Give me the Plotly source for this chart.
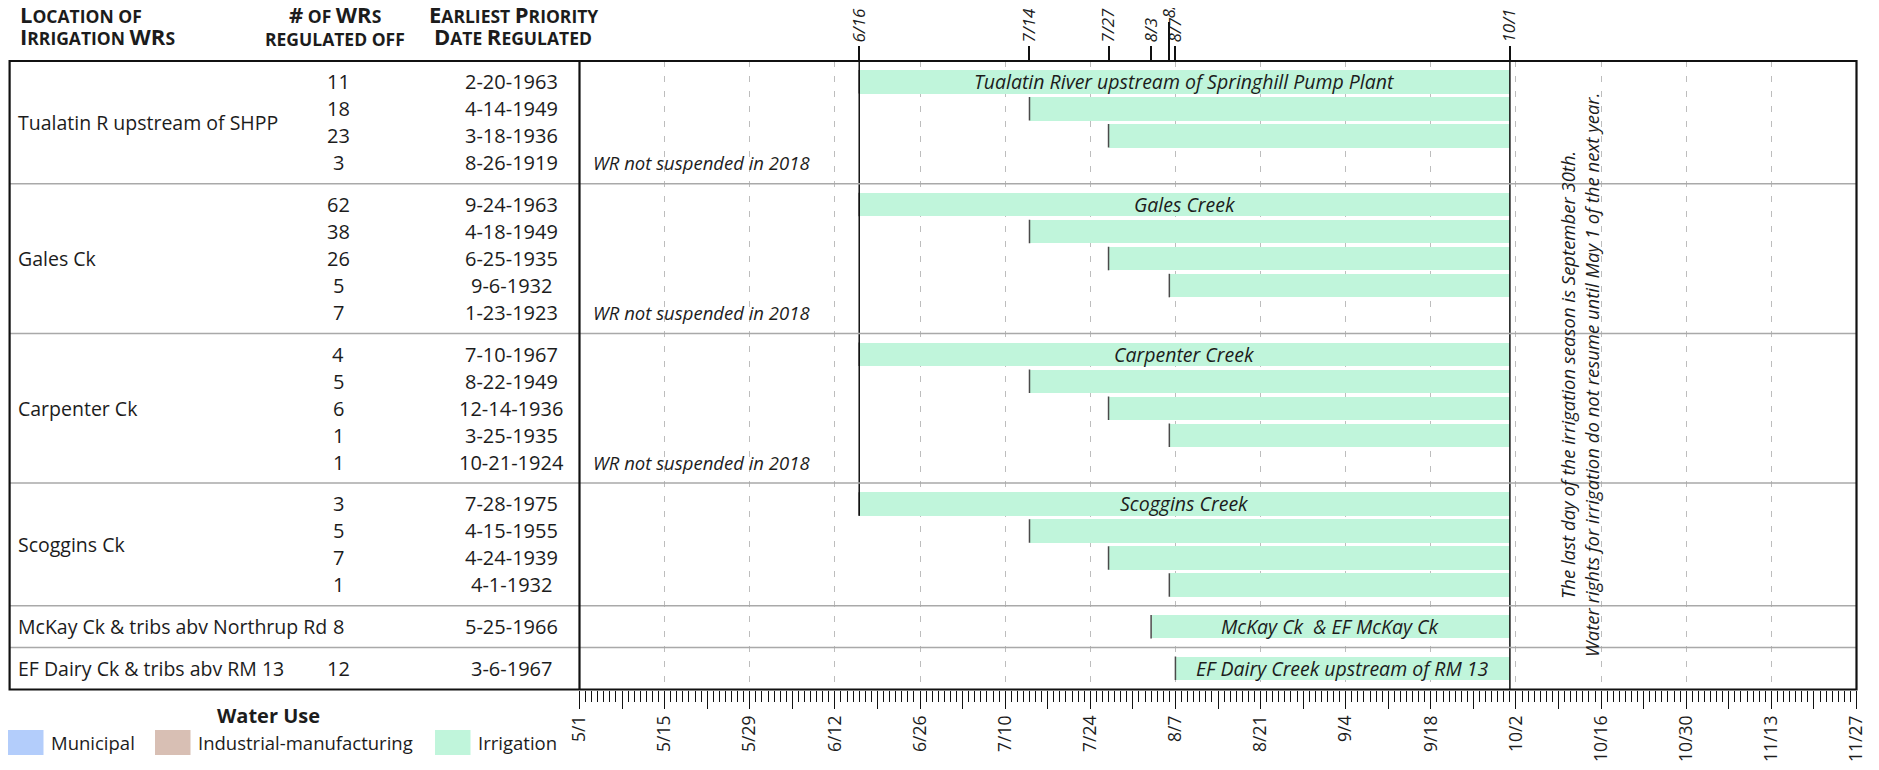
import plotly.graph_objects as go
import pandas as pd

# ---------------- data ----------------
YEAR = 2018
locations = [
    "Tualatin R upstream of SHPP",
    "Gales Ck",
    "Carpenter Ck",
    "Scoggins Ck",
    "McKay Ck & tribs abv Northrup Rd",
    "EF Dairy Ck & tribs abv RM 13",
]
group_sizes = [4, 5, 5, 4, 1, 1]
num_wrs = [11, 18, 23, 3,
           62, 38, 26, 5, 7,
           4, 5, 6, 1, 1,
           3, 5, 7, 1,
           8,
           12]
priority_dates = ["2-20-1963", "4-14-1949", "3-18-1936", "8-26-1919",
                  "9-24-1963", "4-18-1949", "6-25-1935", "9-6-1932", "1-23-1923",
                  "7-10-1967", "8-22-1949", "12-14-1936", "3-25-1935", "10-21-1924",
                  "7-28-1975", "4-15-1955", "4-24-1939", "4-1-1932",
                  "5-25-1966",
                  "3-6-1967"]
# date regulation began (None = not suspended in 2018)
reg_start = ["6/16", "7/14", "7/27", None,
             "6/16", "7/14", "7/27", "8/6", None,
             "6/16", "7/14", "7/27", "8/6", None,
             "6/16", "7/14", "7/27", "8/6",
             "8/3",
             "8/7"]
reg_end = "10/1"
bar_labels = [
    "Tualatin River upstream of Springhill Pump Plant",
    "Gales Creek",
    "Carpenter Creek",
    "Scoggins Creek",
    "McKay Ck  & EF McKay Ck",
    "EF Dairy Creek upstream of RM 13",
]
not_suspended_text = "WR not suspended in 2018"
season_note = ["The last day of the irrigation season is September 30th.",
               "Water rights for irrigation do not resume until May 1 of the next year."]
axis_start, axis_end = "5/1", "11/27"
major_tick_days, mid_tick_days, minor_tick_days = 14, 7, 1
legend_title = "Water Use"
legend_uses = ["Municipal", "Industrial-manufacturing", "Irrigation"]
legend_colors = ["#b3cdfb", "#d8bfb4", "#c0f5db"]
IRR_COLOR = legend_colors[2]

# ---------------- geometry (screen pixels) ----------------
W, H = 1879, 770
OFF = 8  # page body margin: figure starts 8px right/down on screen
DAY_MS = 86400000
BOX_L, BOX_R, BOX_T, BOX_B = 9.6, 1856.5, 61.0, 689.5
DIV_X = 579.5
PITCH, PAD, BAR_H = 27.0, 7.35, 23.5
FONT = "Open Sans"
TXT = "#1c1c1c"


def md(s):
    m, d = s.split("/")
    return pd.Timestamp(YEAR, int(m), int(d))


def iso(t):
    return t.strftime("%Y-%m-%d %H:%M:%S")


def px(x):
    return (x - OFF) / W


def py(y):
    return 1 - (y - OFF) / H


row_y, bounds, cur = [], [0.0], 0.0
group_rows = []
for n in group_sizes:
    cur += PAD
    rows = []
    for _ in range(n):
        row_y.append(cur + PITCH / 2)
        rows.append(len(row_y) - 1)
        cur += PITCH
    cur += PAD
    bounds.append(cur)
    group_rows.append(rows)
Y_SPAN = BOX_B - BOX_T

fig = go.Figure()

# bars
reg_idx = [i for i, s in enumerate(reg_start) if s]
starts = [md(reg_start[i]) for i in reg_idx]
end = md(reg_end)
fig.add_trace(go.Bar(
    orientation="h",
    y=[row_y[i] for i in reg_idx],
    base=[iso(s) for s in starts],
    x=[(end - s).total_seconds() * 1000 for s in starts],
    width=BAR_H,
    marker=dict(color=IRR_COLOR, line=dict(width=0)),
    hoverinfo="skip", showlegend=False,
))

# left edges of bars
ex, ey = [], []
for i, s in zip(reg_idx, starts):
    ex += [iso(s), iso(s), None]
    ey += [row_y[i] - BAR_H / 2, row_y[i] + BAR_H / 2, None]
fig.add_trace(go.Scatter(x=ex, y=ey, mode="lines", line=dict(color="#4a4a4a", width=1.5),
                         hoverinfo="skip", showlegend=False))

# long vertical lines: earliest regulation start and end of season
first = min(starts)
first_bottom = max(row_y[i] for i, s in zip(reg_idx, starts) if s == first) + BAR_H / 2
fig.add_trace(go.Scatter(x=[iso(first), iso(first), None, iso(end), iso(end)],
                         y=[0, first_bottom, None, 0, Y_SPAN], mode="lines",
                         line=dict(color="#111", width=1.5), hoverinfo="skip", showlegend=False))

# marker dates on the top axis
markers = sorted(set(starts + [end]))
raised = [m for k, m in enumerate(markers[:-1]) if (markers[k + 1] - m).days < 3]
normal = [m for m in markers if m not in raised]

for ax in ["x2", "x3", "x4"]:
    fig.add_trace(go.Scatter(x=[iso(md(axis_start))], y=[0], xaxis=ax, mode="markers",
                             marker=dict(opacity=0), hoverinfo="skip", showlegend=False))

xr = [iso(md(axis_start)), iso(md(axis_end))]
dom = [px(DIV_X), px(BOX_R)]
tick_font = dict(family=FONT, size=17.5, color=TXT)
top_font = dict(family=FONT, size=17, color=TXT, style="italic")
fig.update_layout(
    width=W, height=H,
    margin=dict(l=0, r=0, t=0, b=0, pad=0, autoexpand=False),
    paper_bgcolor="white", plot_bgcolor="rgba(0,0,0,0)",
    hovermode=False, showlegend=False, bargap=0,
    xaxis=dict(type="date", domain=dom, range=xr, anchor="y", automargin=False,
               tick0=iso(md(axis_start)), dtick=major_tick_days * DAY_MS,
               tickformat="%-m/%-d", ticks="outside", ticklen=18, tickwidth=1.2,
               tickcolor="#111", tickangle=-90, tickfont=tick_font,
               showgrid=True, gridcolor="#bdbdbd", gridwidth=1, griddash="6px,9px",
               minor=dict(dtick=minor_tick_days * DAY_MS, tick0=iso(md(axis_start)),
                          ticks="outside", ticklen=11, tickwidth=1, tickcolor="#111",
                          showgrid=False),
               showline=False, zeroline=False, fixedrange=True),
    xaxis2=dict(type="date", overlaying="x", range=xr, anchor="y", side="bottom", automargin=False,
                tick0=iso(md(axis_start)), dtick=mid_tick_days * DAY_MS,
                ticks="outside", ticklen=18, tickwidth=1.2, tickcolor="#111",
                showticklabels=False, showgrid=False, showline=False, zeroline=False),
    xaxis3=dict(type="date", overlaying="x", range=xr, anchor="y", side="top", automargin=False,
                tickmode="array", tickvals=[iso(m) for m in normal],
                tickformat="%-m/%-d", ticks="outside", ticklen=14, tickwidth=1.5,
                tickcolor="#111", tickangle=-90, tickfont=top_font,
                showgrid=False, showline=False, zeroline=False),
    xaxis4=dict(type="date", overlaying="x", range=xr, anchor="y", side="top", automargin=False,
                tickmode="array", tickvals=[iso(m) for m in raised],
                tickformat="%-m/%-d", ticks="outside", ticklen=38, tickwidth=1.5,
                tickcolor="#111", tickangle=-90, tickfont=top_font,
                showgrid=False, showline=False, zeroline=False),
    yaxis=dict(domain=[py(BOX_B), py(BOX_T)], range=[Y_SPAN, 0], showticklabels=False,
               automargin=False, showgrid=False, zeroline=False, showline=False, ticks="",
               fixedrange=True),
)

shapes = []
# group separators
for b in bounds[1:-1]:
    shapes.append(dict(type="line", xref="paper", yref="paper", x0=px(BOX_L), x1=px(BOX_R),
                       y0=py(BOX_T + b), y1=py(BOX_T + b),
                       line=dict(color="#a9a9a9", width=1.5), layer="above"))
# outer box and divider
shapes.append(dict(type="rect", xref="paper", yref="paper", x0=px(BOX_L), x1=px(BOX_R),
                   y0=py(BOX_B), y1=py(BOX_T), line=dict(color="#111", width=2.2), layer="above"))
shapes.append(dict(type="line", xref="paper", yref="paper", x0=px(DIV_X), x1=px(DIV_X),
                   y0=py(BOX_B), y1=py(BOX_T), line=dict(color="#111", width=2.2), layer="above"))

ann = []
SMALL = 17.5
BIG = "<span style='font-size:22px'>%s</span>"
hdr_font = dict(family=FONT, size=SMALL, color=TXT)


def header(x, anchor, lines):
    for k, t in enumerate(lines):
        ann.append(dict(xref="paper", yref="paper", x=px(x), y=py(31 + 21.7 * k),
                        xanchor=anchor, yanchor="bottom", align=anchor if anchor != "center" else "center",
                        showarrow=False, font=hdr_font, text="<b>" + t + "</b>"))


header(18.4, "left", [BIG % "L" + "OCATION OF", BIG % "I" + "RRIGATION " + BIG % "WR" + "S"])
header(335, "center", [BIG % "#" + " OF " + BIG % "WR" + "S", "REGULATED OFF"])
header(513, "center", [BIG % "E" + "ARLIEST " + BIG % "P" + "RIORITY",
                       BIG % "D" + "ATE " + BIG % "R" + "EGULATED"])

name_font = dict(family=FONT, size=19.5, color=TXT)
body_font = dict(family=FONT, size=20, color=TXT)
for g, name in enumerate(locations):
    yc = (bounds[g] + bounds[g + 1]) / 2
    ann.append(dict(xref="paper", yref="y", x=px(16), y=yc, xanchor="left", yanchor="middle",
                    showarrow=False, text=name, font=name_font))
for i in range(len(num_wrs)):
    ann.append(dict(xref="paper", yref="y", x=px(338), y=row_y[i], xanchor="center", yanchor="middle",
                    showarrow=False, text=str(num_wrs[i]), font=body_font))
    ann.append(dict(xref="paper", yref="y", x=px(511), y=row_y[i], xanchor="center", yanchor="middle",
                    showarrow=False, text=priority_dates[i], font=body_font))
    if reg_start[i] is None:
        ann.append(dict(xref="paper", yref="y", x=px(591), y=row_y[i], xanchor="left",
                        yanchor="middle", showarrow=False, text="<i>" + not_suspended_text + "</i>",
                        font=dict(family=FONT, size=18.5, color=TXT)))

# bar labels (first row of each group)
for g, rows in enumerate(group_rows):
    i = rows[0]
    s = md(reg_start[i])
    mid = s + (end - s) / 2
    ann.append(dict(xref="x", yref="y", x=iso(mid), y=row_y[i], xanchor="center", yanchor="middle",
                    showarrow=False, text="<i>" + bar_labels[g] + "</i>",
                    font=dict(family=FONT, size=19.5, color=TXT)))

# season note
ann.append(dict(xref="paper", yref="paper", x=px(1579), y=py(375), xanchor="center", yanchor="middle",
                showarrow=False, textangle=-90, align="center",
                text="<i>" + "<br>".join(season_note) + "</i>",
                font=dict(family=FONT, size=18.5, color=TXT)))

# legend
ann.append(dict(xref="paper", yref="paper", x=px(268), y=py(715), xanchor="center", yanchor="middle",
                showarrow=False, text="<b>" + legend_title + "</b>",
                font=dict(family=FONT, size=20, color=TXT)))
sw_x = [8, 155, 435]
for k, (lab, col) in enumerate(zip(legend_uses, legend_colors)):
    x0 = sw_x[k]
    shapes.append(dict(type="rect", xref="paper", yref="paper", x0=px(x0), x1=px(x0 + 35.5),
                       y0=py(755), y1=py(730), line=dict(width=0), fillcolor=col))
    ann.append(dict(xref="paper", yref="paper", x=px(x0 + 41), y=py(742.5), xanchor="left",
                    yanchor="middle", showarrow=False, text=lab,
                    font=dict(family=FONT, size=18.5, color=TXT)))

fig.update_layout(shapes=shapes, annotations=ann)
fig.write_html("out.html")
